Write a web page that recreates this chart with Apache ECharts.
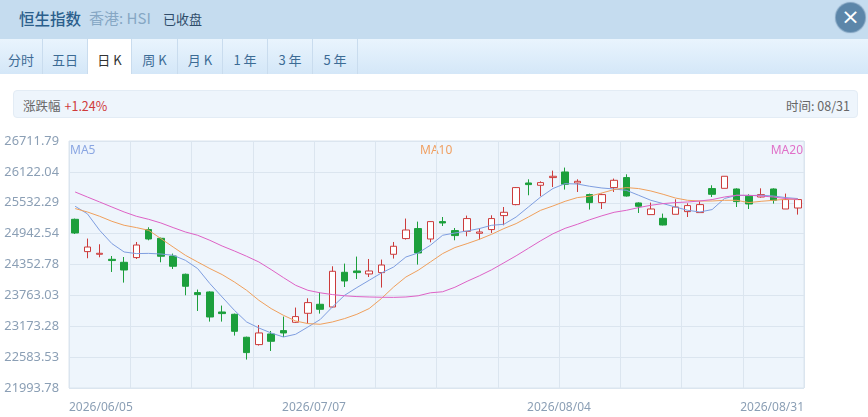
<!DOCTYPE html>
<html>
<head>
<meta charset="utf-8">
<title>恒生指数 日K</title>
<script src="https://cdn.jsdelivr.net/npm/echarts@6/dist/echarts.min.js"></script>
<style>
  body { margin: 0; width: 868px; height: 417px; overflow: hidden; background: #fff;
    font-family: "Noto Sans CJK SC", "Noto Sans", sans-serif; }
  .head { position: absolute; left: 0; top: 0; width: 868px; height: 39px; background: #c5dcef; }
  .head .t1 { position: absolute; left: 19px; top: 7px; font-size: 15.5px; color: #2b5f8c; font-weight: 500; }
  .head .t2 { position: absolute; left: 89px; top: 7px; font-size: 15px; color: #86a7c4; }
  .head .t3 { position: absolute; left: 163px; top: 9px; font-size: 13px; color: #2f4c6a; }
  .close { position: absolute; left: 836px; top: 3px; width: 29px; height: 29px; border-radius: 50%;
    background: #5c86a9; color: #fff; font-size: 22px; line-height: 27px; text-align: center; font-family: "DejaVu Sans";
    box-shadow: 0 0 1px 1px #7d9fbd; }
  .tabs { position: absolute; left: 0; top: 39px; width: 868px; height: 35px;
    background: linear-gradient(#e9f4fd, #d4e7f8); }
  .tab { position: absolute; top: 0; height: 35px; line-height: 42px; font-size: 13px; color: #3c6b95;
    text-align: center; border-right: 1px solid #c9dcee; box-sizing: border-box; }
  .tab.on { background: #fff; color: #333; }
  .info { position: absolute; left: 13px; top: 90px; width: 845px; height: 28px; background: #eef5fc;
    border: 1px solid #e3ecf5; border-radius: 4px; box-sizing: border-box; font-size: 12.5px; color: #666; }
  .info .l { position: absolute; left: 9px; top: 5px; }
  .info .l span { color: #d03a3a; margin-left: 4px; }
  .info .r { position: absolute; right: 7px; top: 5px; }
  #chart { position: absolute; left: 0; top: 120px; width: 868px; height: 297px; }
</style>
</head>
<body>
<div class="head">
  <span class="t1">恒生指数</span><span class="t2">香港: HSI</span><span class="t3">已收盘</span>
  <div class="close">×</div>
</div>
<div class="tabs" id="tabs"></div>
<div class="info">
  <div class="l">涨跌幅<span>+1.24%</span></div>
  <div class="r">时间: 08/31</div>
</div>
<div id="chart"></div>
<script>
// 标签页
var tabNames = ['分时', '五日', '日 K', '周 K', '月 K', '1 年', '3 年', '5 年'];
var tabEdges = [0, 43, 88, 132, 178, 223, 268, 313, 358];

// 交易日 (2026)
var dates = [
  '06/05', '06/08', '06/09', '06/10', '06/11', '06/12', '06/15', '06/16', '06/17', '06/18',
  '06/22', '06/23', '06/24', '06/25', '06/26', '06/29', '06/30', '07/02', '07/03', '07/06',
  '07/07', '07/08', '07/09', '07/10', '07/13', '07/14', '07/15', '07/16', '07/17', '07/20',
  '07/21', '07/22', '07/23', '07/24', '07/27', '07/28', '07/29', '07/30', '07/31', '08/03',
  '08/04', '08/05', '08/06', '08/07', '08/10', '08/11', '08/12', '08/13', '08/14', '08/17',
  '08/18', '08/19', '08/20', '08/21', '08/24', '08/25', '08/26', '08/27', '08/28', '08/31'
];

// K线 [开, 收, 低, 高]
var kdata = [
  [25216, 24955, 24936, 25230], [24599, 24687, 24472, 24848], [24548, 24567, 24491, 24739],
  [24452, 24428, 24210, 24515], [24395, 24248, 24007, 24496], [24485, 24725, 24458, 24783],
  [25020, 24840, 24815, 25064], [24853, 24510, 24395, 24866], [24515, 24319, 24267, 24561],
  [24166, 23937, 23765, 24179], [23816, 23778, 23465, 23874], [23828, 23350, 23262, 23840],
  [23446, 23415, 23262, 23568], [23402, 23077, 22995, 23415], [22963, 22670, 22537, 22975],
  [22823, 23045, 22804, 23197], [23026, 22886, 22701, 23083], [23090, 23045, 22968, 23358],
  [23249, 23358, 23236, 23530], [23421, 23625, 23224, 23707], [23593, 23497, 23415, 23822],
  [23541, 24223, 23530, 24319], [24204, 24038, 23923, 24370], [24229, 24198, 24076, 24504],
  [24172, 24229, 24114, 24458], [24198, 24343, 23912, 24447], [24548, 24701, 24466, 24783],
  [24848, 25012, 24829, 25230], [25039, 24573, 24351, 25172], [24840, 25172, 24777, 25178],
  [25172, 25146, 25088, 25260], [25001, 24905, 24815, 25050], [24987, 25230, 24892, 25287],
  [24949, 24974, 24829, 25039], [25020, 25230, 24955, 25293], [25287, 25350, 25102, 25451],
  [25497, 25822, 25484, 25833], [25910, 25879, 25675, 25980], [25866, 25917, 25656, 25942],
  [26013, 26038, 25833, 26146], [26120, 25885, 25784, 26204], [25910, 25942, 25738, 25980],
  [25688, 25535, 25402, 25707], [25535, 25688, 25413, 25707], [25822, 25961, 25738, 25994],
  [26013, 25661, 25650, 26076], [25528, 25465, 25337, 25540], [25306, 25413, 25306, 25535],
  [25235, 25107, 25100, 25325], [25312, 25451, 25312, 25598], [25363, 25478, 25260, 25522],
  [25344, 25497, 25344, 25560], [25803, 25694, 25642, 25866], [25808, 26038, 25808, 26038],
  [25795, 25554, 25451, 25808], [25656, 25509, 25413, 25694], [25642, 25688, 25630, 25808],
  [25795, 25579, 25516, 25808], [25413, 25593, 25413, 25707], [25432, 25593, 25306, 25604]
];

// 均线
var ma5 = [
  25465, 25321, 25006, 24752, 24592, 24561, 24565, 24553, 24529, 24433,
  24275, 23988, 23732, 23478, 23255, 23140, 23045, 22968, 23020, 23159,
  23301, 23541, 23765, 23912, 24051, 24191, 24305, 24496, 24573, 24720,
  24911, 24955, 24993, 25039, 25102, 25121, 25260, 25451, 25642, 25803,
  25898, 25890, 25847, 25814, 25795, 25770, 25675, 25579, 25516, 25451,
  25388, 25356, 25402, 25612, 25675, 25670, 25675, 25661, 25631, 25612
];
var ma10 = [
  25421, 25356, 25274, 25178, 25102, 25058, 25006, 24848, 24687, 24529,
  24401, 24275, 24160, 24019, 23860, 23669, 23511, 23383, 23274, 23224,
  23211, 23255, 23320, 23402, 23511, 23702, 23923, 24114, 24242, 24401,
  24561, 24676, 24752, 24834, 24930, 25039, 25134, 25260, 25388, 25470,
  25560, 25631, 25656, 25719, 25784, 25822, 25803, 25757, 25694, 25623,
  25579, 25566, 25566, 25579, 25579, 25535, 25560, 25579, 25598, 25598
];
var ma20 = [
  25738, 25642, 25547, 25451, 25356, 25274, 25216, 25146, 25058, 24974,
  24911, 24815, 24706, 24611, 24510, 24401, 24256, 24103, 23956, 23860,
  23812, 23778, 23755, 23740, 23732, 23727, 23725, 23732, 23755, 23812,
  23832, 23918, 24032, 24137, 24252, 24385, 24519, 24662, 24806, 24939,
  25044, 25121, 25207, 25283, 25350, 25388, 25440, 25484, 25516, 25535,
  25547, 25566, 25593, 25642, 25675, 25675, 25661, 25642, 25612, 25598
];

// 纵轴刻度
var yTicks = ['21993.78', '22583.53', '23173.28', '23763.03', '24352.78',
  '24942.54', '25532.29', '26122.04', '26711.79'];
var yMin = 21993.78;
var yMax = 26711.79;

var tabsEl = document.getElementById('tabs');
for (var i = 0; i < tabNames.length; i++) {
  var d = document.createElement('div');
  d.className = 'tab' + (i === 2 ? ' on' : '');
  d.style.left = tabEdges[i] + 'px';
  d.style.width = (tabEdges[i + 1] - tabEdges[i]) + 'px';
  d.textContent = tabNames[i];
  tabsEl.appendChild(d);
}

var red = '#cc3b3b';
var green = '#1c9f3c';
var labelColor = '#8b9fb5';

var chart = echarts.init(document.getElementById('chart'));
var option = {
  animation: false,
  grid: {
    left: 69, right: 64, top: 21, bottom: 29,
    show: true, backgroundColor: '#eef5fc', borderColor: '#dbe5ef', borderWidth: 1
  },
  graphic: [
    { type: 'text', left: 70, top: 25, style: { text: 'MA5', fill: '#8aa6e2', font: '12px "Noto Sans"' } },
    { type: 'text', left: 420, top: 25, style: { text: 'MA10', fill: '#f0a062', font: '12px "Noto Sans"' } },
    { type: 'text', right: 65, top: 25, style: { text: 'MA20', fill: '#e070c8', font: '12px "Noto Sans"' } }
  ],
  xAxis: [
    {
      type: 'category', data: dates, boundaryGap: true,
      axisLine: { show: false }, axisTick: { show: false }, axisLabel: { show: false },
      splitLine: { show: false }
    },
    {
      type: 'value', min: 0, max: 60, interval: 5, position: 'bottom',
      axisLine: { show: false }, axisTick: { show: false },
      splitLine: { show: true, lineStyle: { color: '#dbe5ef', width: 1 } },
      axisLabel: {
        color: labelColor, fontSize: 12, fontFamily: 'Noto Sans', margin: 14,
        showMinLabel: true, showMaxLabel: true,
        alignMinLabel: 'left', alignMaxLabel: 'right',
        formatter: function (v) {
          if (v % 20 !== 0) return '';
          return '2026/' + dates[Math.min(v, dates.length - 1)];
        }
      }
    }
  ],
  yAxis: [
    {
      type: 'value', min: yMin, max: yMax, scale: true,
      axisLine: { show: false }, axisTick: { show: false }, axisLabel: { show: false },
      splitLine: { show: false }
    },
    {
      type: 'value', min: 0, max: 8, interval: 1, position: 'left',
      axisLine: { show: false }, axisTick: { show: false },
      splitLine: { show: true, lineStyle: { color: '#dbe5ef', width: 1 } },
      axisLabel: {
        color: labelColor, fontSize: 12.8, fontFamily: 'Noto Sans', margin: 10,
        formatter: function (v) { return yTicks[v]; }
      }
    }
  ],
  series: [
    {
      name: '日K', type: 'candlestick', data: kdata, barWidth: 7,
      itemStyle: {
        color: '#fff', color0: green, borderColor: red, borderColor0: green, borderWidth: 1
      }
    },
    { name: 'MA5', type: 'line', data: ma5, symbol: 'none', smooth: false,
      lineStyle: { color: '#7f9ee0', width: 1 } },
    { name: 'MA10', type: 'line', data: ma10, symbol: 'none', smooth: false,
      lineStyle: { color: '#f0a05c', width: 1 } },
    { name: 'MA20', type: 'line', data: ma20, symbol: 'none', smooth: false,
      lineStyle: { color: '#de62c6', width: 1 } }
  ]
};
chart.setOption(option);
</script>
</body>
</html>
